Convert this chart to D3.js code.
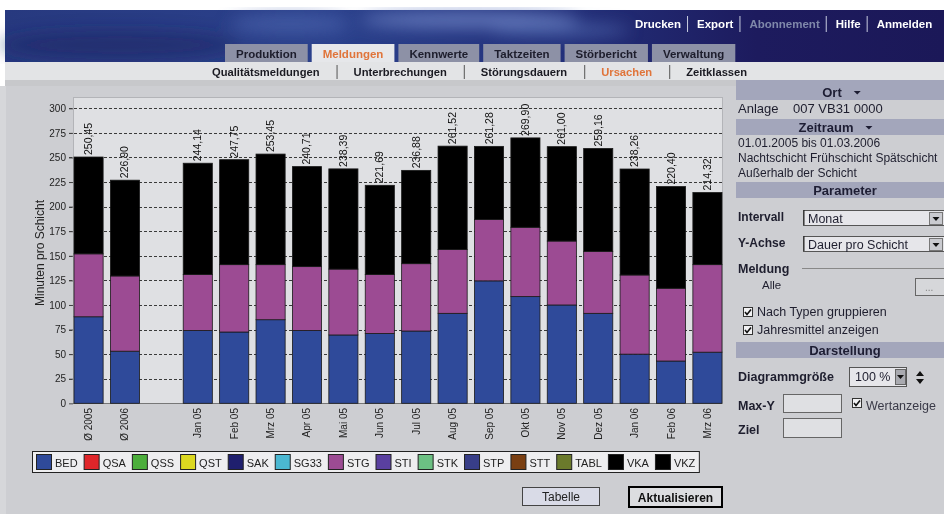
<!DOCTYPE html>
<html>
<head>
<meta charset="utf-8">
<script src="https://cdn.jsdelivr.net/npm/d3@7"></script>
<style>
  body { margin: 0; background: #cdced2; }
  svg { display: block; font-family: Arial, "Liberation Sans", sans-serif; }
</style>
</head>
<body>
<svg width="944" height="514"></svg>
<script>
// values (Minuten pro Schicht), "" = empty slot
const categories = ["Ø 2005", "Ø 2006", "", "Jan 05", "Feb 05", "Mrz 05", "Apr 05", "Mai 05", "Jun 05",
    "Jul 05", "Aug 05", "Sep 05", "Okt 05", "Nov 05", "Dez 05", "Jan 06", "Feb 06", "Mrz 06"];
const bedValues = [88, 53, null, 74, 72.5, 85, 74, 69.5, 71, 73.5, 91.5, 124.5, 108.5, 100, 91.5, 50, 43, 52];
const stgValues = [64, 76.5, null, 57, 68.5, 56, 65, 67, 60, 68.5, 65, 62.5, 70.5, 65, 63, 80.5, 74, 89];
const vkaValues = [98.45, 97.40, null, 113.14, 106.75, 112.45, 101.71, 101.89, 90.69, 94.88, 105.02, 74.28,
    90.90, 96.00, 104.66, 107.76, 103.40, 73.32];
const totals = [250.45, 226.90, null, 244.14, 247.75, 253.45, 240.71, 238.39, 221.69, 236.88, 261.52, 261.28,
    269.90, 261.00, 259.16, 238.26, 220.40, 214.32];
const yTicks = [0, 25, 50, 75, 100, 125, 150, 175, 200, 225, 250, 275, 300];

const legendKeys = ["BED", "QSA", "QSS", "QST", "SAK", "SG33", "STG", "STI", "STK", "STP", "STT", "TABL", "VKA", "VKZ"];
const legendColors = ["#2f4a9a", "#e0262a", "#4cae3c", "#dcd820", "#1f1f6e", "#4bb8d2", "#9c4b93", "#5a40a0",
    "#6cc083", "#383e88", "#7a3f12", "#6b7a2c", "#000000", "#000000"];

const mainTabs = ["Produktion", "Meldungen", "Kennwerte", "Taktzeiten", "Störbericht", "Verwaltung"];
const subTabs = ["Qualitätsmeldungen", "Unterbrechungen", "Störungsdauern", "Ursachen", "Zeitklassen"];
const topLinks = ["Drucken", "Export", "Abonnement", "Hilfe", "Anmelden"];

const svg = d3.select("svg");
const fmt = d3.formatLocale({ decimal: ",", thousands: ".", grouping: [3], currency: ["", ""] }).format(".2f");

drawHeader();
drawChart();
drawLegend();
drawPanel();

function drawHeader() {
    const defs = svg.append("defs");
    const grad = defs.append("linearGradient").attr("id", "banner");
    grad.append("stop").attr("offset", 0).attr("stop-color", "#27397f");
    grad.append("stop").attr("offset", 0.35).attr("stop-color", "#2b418c");
    grad.append("stop").attr("offset", 0.6).attr("stop-color", "#23307a");
    grad.append("stop").attr("offset", 0.8).attr("stop-color", "#1d1b5e");
    grad.append("stop").attr("offset", 1).attr("stop-color", "#1b1858");
    defs.append("filter").attr("id", "blur").append("feGaussianBlur").attr("stdDeviation", 8);

    svg.append("rect").attr("width", 944).attr("height", 514).attr("fill", "#cdced2");
    svg.append("rect").attr("width", 944).attr("height", 86).attr("fill", "#ffffff");
    svg.append("rect").attr("y", 86).attr("width", 6).attr("height", 428).attr("fill", "#d6d7da");

    const banner = svg.append("g");
    banner.append("rect").attr("x", 5).attr("y", 10).attr("width", 939).attr("height", 52).attr("fill", "url(#banner)");
    const glow = banner.append("g").attr("filter", "url(#blur)");
    glow.append("ellipse").attr("cx", 470).attr("cy", 20).attr("rx", 110).attr("ry", 8).attr("fill", "#6f86c6").attr("opacity", 0.8);
    glow.append("ellipse").attr("cx", 290).attr("cy", 24).attr("rx", 60).attr("ry", 10).attr("fill", "#4f68b0").attr("opacity", 0.6);
    glow.append("ellipse").attr("cx", 560).attr("cy", 30).attr("rx", 70).attr("ry", 6).attr("fill", "#5d78bc").attr("opacity", 0.6);
    glow.append("ellipse").attr("cx", 120).attr("cy", 45).attr("rx", 120).attr("ry", 14).attr("fill", "#1c2a66").attr("opacity", 0.6);

    // links top right
    let lx = 635;
    topLinks.forEach((t, i) => {
        const txt = banner.append("text").attr("x", lx).attr("y", 28)
            .attr("font-size", 11.5).attr("font-weight", "bold")
            .attr("fill", t === "Abonnement" ? "#7f88aa" : "#ffffff").text(t);
        lx += txt.node().getComputedTextLength() + 6;
        if (i < topLinks.length - 1) {
            banner.append("rect").attr("x", lx).attr("y", 16).attr("width", 1).attr("height", 16).attr("fill", "#c8cce0");
            lx += 10;
        }
    });

    // main tabs
    let tx = 225;
    mainTabs.forEach(t => {
        const active = t === "Meldungen";
        const g = svg.append("g");
        const rect = g.append("rect").attr("x", tx).attr("y", 44).attr("height", 18)
            .attr("fill", active ? "#e6e7ea" : "#8d91a6");
        const txt = g.append("text").attr("y", 58).attr("font-size", 11.5).attr("font-weight", "bold")
            .attr("text-anchor", "middle").attr("fill", active ? "#e0743a" : "#1d1d2c").text(t);
        const w = txt.node().getComputedTextLength() + 22;
        rect.attr("width", w);
        txt.attr("x", tx + w / 2);
        tx += w + 4;
    });

    // sub navigation
    svg.append("rect").attr("x", 5).attr("y", 62).attr("width", 939).attr("height", 18).attr("fill", "#e3e4e6");
    svg.append("rect").attr("x", 5).attr("y", 80).attr("width", 939).attr("height", 6).attr("fill", "#c7c8cb");
    let sx = 212;
    subTabs.forEach((t, i) => {
        const txt = svg.append("text").attr("x", sx).attr("y", 76).attr("font-size", 11.2).attr("font-weight", "bold")
            .attr("fill", t === "Ursachen" ? "#e0743a" : "#1a1a22").text(t);
        sx += txt.node().getComputedTextLength() + 17;
        if (i < subTabs.length - 1) {
            svg.append("rect").attr("x", sx).attr("y", 65).attr("width", 1).attr("height", 14).attr("fill", "#555");
            sx += 17;
        }
    });
}

function drawChart() {
    const x = d3.scaleBand().domain(categories).range([74, 722]).paddingInner(0.2).paddingOuter(0);
    const y = d3.scaleLinear().domain([0, 300]).range([403.3, 108.3]);

    svg.append("rect").attr("x", 73.5).attr("y", 97.5).attr("width", 649).attr("height", 306)
        .attr("fill", "#dfe0e3").attr("stroke", "#b3b4b8");

    // dashed grid lines + tick labels
    const grid = svg.append("g");
    grid.selectAll("line").data(yTicks.filter(v => v > 0)).join("line")
        .attr("x1", 69).attr("x2", 722).attr("y1", d => Math.round(y(d)) + 0.5).attr("y2", d => Math.round(y(d)) + 0.5)
        .attr("stroke", "#3a3a3a").attr("stroke-dasharray", "3,2");

    const yAxis = d3.axisLeft(y).tickValues(yTicks).tickSize(4).tickPadding(3);
    const ay = svg.append("g").attr("transform", "translate(73,0)").call(yAxis);
    ay.select(".domain").remove();
    ay.selectAll("line").attr("stroke", "#444");
    ay.selectAll("text").attr("font-size", 10).attr("fill", "#222").attr("font-family", "Arial, 'Liberation Sans', sans-serif");

    svg.append("line").attr("x1", 69).attr("x2", 722).attr("y1", 403.5).attr("y2", 403.5).attr("stroke", "#777");

    svg.append("text").attr("transform", "translate(44,253) rotate(-90)")
        .attr("text-anchor", "middle").attr("font-size", 12).attr("fill", "#222").text("Minuten pro Schicht");

    const rows = categories.map((c, i) => ({ cat: c, BED: bedValues[i], STG: stgValues[i], VKA: vkaValues[i], total: totals[i] }))
        .filter(d => d.cat !== "");
    const stack = d3.stack().keys(["BED", "STG", "VKA"]);
    const colors = { BED: "#2f4a9a", STG: "#9c4b93", VKA: "#000000" };

    svg.append("g").selectAll("g").data(stack(rows)).join("g")
        .attr("fill", d => colors[d.key])
        .selectAll("rect").data(d => d).join("rect")
        .attr("x", d => x(d.data.cat))
        .attr("width", x.bandwidth())
        .attr("y", d => y(d[1]))
        .attr("height", d => y(d[0]) - y(d[1]))
        .attr("stroke", "#1a1a1a").attr("stroke-width", 0.8);

    // value labels
    svg.append("g").selectAll("text").data(rows).join("text")
        .attr("transform", d => `translate(${x(d.cat) + x.bandwidth() / 2 + 3.5},${y(d.total) - 2}) rotate(-90)`)
        .attr("font-size", 10.5).attr("fill", "#111").text(d => fmt(d.total));

    // category labels
    svg.append("g").selectAll("text").data(rows).join("text")
        .attr("transform", d => `translate(${x(d.cat) + x.bandwidth() / 2 + 3.5},408) rotate(-90)`)
        .attr("text-anchor", "end").attr("font-size", 10).attr("fill", "#222").text(d => d.cat);
}

function drawLegend() {
    const g = svg.append("g");
    const box = g.append("rect").attr("x", 32.5).attr("y", 451.5).attr("height", 21)
        .attr("fill", "#eeeef0").attr("stroke", "#222");
    let lx = 36;
    legendKeys.forEach((k, i) => {
        g.append("rect").attr("x", lx + 0.5).attr("y", 454.5).attr("width", 15).attr("height", 15)
            .attr("fill", legendColors[i]).attr("stroke", "#222");
        const t = g.append("text").attr("x", lx + 19).attr("y", 466.5).attr("font-size", 11)
            .attr("fill", "#222").text(k);
        lx += 19 + t.node().getComputedTextLength() + 6;
    });
    box.attr("width", lx - 32.5 - 2);

    // buttons
    svg.append("rect").attr("x", 522.5).attr("y", 487.5).attr("width", 77).attr("height", 18)
        .attr("fill", "#d9dbe7").attr("stroke", "#444");
    svg.append("text").attr("x", 561).attr("y", 501).attr("text-anchor", "middle").attr("font-size", 12)
        .attr("fill", "#222").text("Tabelle");
    svg.append("rect").attr("x", 629).attr("y", 487).attr("width", 93).attr("height", 20)
        .attr("fill", "#dcdde0").attr("stroke", "#000").attr("stroke-width", 2);
    svg.append("text").attr("x", 675.5).attr("y", 501.5).attr("text-anchor", "middle").attr("font-size", 12)
        .attr("font-weight", "bold").attr("fill", "#111").text("Aktualisieren");
}

function header(y0, label, cx, arrow) {
    svg.append("rect").attr("x", 736).attr("y", y0).attr("width", 208).attr("height", 16).attr("fill", "#a3a6bb");
    const t = svg.append("text").attr("x", cx).attr("y", y0 + 12.5).attr("text-anchor", "middle")
        .attr("font-size", 13).attr("font-weight", "bold").attr("fill", "#1d1d33").text(label);
    if (arrow) {
        const ax = cx + t.node().getComputedTextLength() / 2 + 15;
        svg.append("path").attr("d", `M${ax - 3},${y0 + 7}h7l-3.5,3.5z`).attr("fill", "#1d1d33");
    }
}

function textAt(x, y, s, opts) {
    opts = opts || {};
    return svg.append("text").attr("x", x).attr("y", y).attr("font-size", opts.size || 12)
        .attr("font-weight", opts.bold ? "bold" : "normal").attr("fill", opts.fill || "#1e1e2e").text(s);
}

function checkbox(x, y) {
    svg.append("rect").attr("x", x + 0.5).attr("y", y + 0.5).attr("width", 9).attr("height", 9)
        .attr("fill", "#f2f2f4").attr("stroke", "#333");
    svg.append("path").attr("d", `M${x + 2},${y + 5}l2,2.5l4,-5`).attr("fill", "none").attr("stroke", "#111").attr("stroke-width", 1.6);
}

function select(x, y, w, h, label) {
    svg.append("rect").attr("x", x + 0.5).attr("y", y + 0.5).attr("width", w).attr("height", h)
        .attr("fill", "#e6e6ea").attr("stroke", "#555");
    svg.append("line").attr("x1", x + 1).attr("x2", x + 1).attr("y1", y).attr("y2", y + h).attr("stroke", "#222");
    textAt(x + 5, y + h - 2.5, label, { size: 12.5 });
}

function drawPanel() {
    svg.append("rect").attr("x", 736).attr("y", 80).attr("width", 208).attr("height", 6).attr("fill", "#a3a6bb");
    header(84, "Ort", 832, true);
    textAt(738, 113, "Anlage", { size: 13 });
    textAt(793, 113, "007 VB31 0000", { size: 13 });
    header(119, "Zeitraum", 826, true);
    textAt(738, 147, "01.01.2005 bis 01.03.2006");
    textAt(738, 162, "Nachtschicht Frühschicht Spätschicht");
    textAt(738, 177, "Außerhalb der Schicht");
    header(182, "Parameter", 845, false);

    textAt(738, 221, "Intervall", { bold: true });
    select(803, 210, 141, 15, "Monat");
    textAt(738, 247, "Y-Achse", { bold: true });
    select(803, 236, 141, 15, "Dauer pro Schicht");
    [212, 238].forEach(yy => {
        svg.append("rect").attr("x", 929.5).attr("y", yy + 0.5).attr("width", 13).attr("height", 12)
            .attr("fill", "#cacbd0").attr("stroke", "#777");
        svg.append("path").attr("d", `M${932.5},${yy + 5}h7l-3.5,4z`).attr("fill", "#111");
    });

    textAt(738, 273, "Meldung", { bold: true, size: 12.5 });
    svg.append("line").attr("x1", 802).attr("x2", 944).attr("y1", 268.5).attr("y2", 268.5).attr("stroke", "#888");
    textAt(762, 289, "Alle", { size: 11.5 });
    svg.append("rect").attr("x", 915.5).attr("y", 278.5).attr("width", 30).attr("height", 17)
        .attr("fill", "#d6d7da").attr("stroke", "#666");
    textAt(925, 291, "...", { size: 10, fill: "#888" });

    checkbox(743, 307);
    textAt(757, 316, "Nach Typen gruppieren", { size: 12.5 });
    checkbox(743, 325);
    textAt(757, 334, "Jahresmittel anzeigen", { size: 12.5 });

    header(342, "Darstellung", 845, false);
    textAt(738, 381, "Diagrammgröße", { bold: true, size: 12.5 });
    svg.append("rect").attr("x", 849.5).attr("y", 367.5).attr("width", 57).attr("height", 19)
        .attr("fill", "#e6e6ea").attr("stroke", "#555");
    textAt(855, 381, "100 %", { size: 12.5 });
    svg.append("rect").attr("x", 895.5).attr("y", 369.5).attr("width", 10).attr("height", 15)
        .attr("fill", "#a9aab0").attr("stroke", "#666");
    svg.append("path").attr("d", "M897,375h7l-3.5,4z").attr("fill", "#111");
    svg.append("path").attr("d", "M916,376l4,-5l4,5zM916,379l4,5l4,-5z").attr("fill", "#111");

    textAt(738, 410, "Max-Y", { bold: true, size: 12.5 });
    svg.append("rect").attr("x", 783.5).attr("y", 394.5).attr("width", 58).attr("height", 18)
        .attr("fill", "#dfe0e3").attr("stroke", "#666");
    checkbox(852, 398);
    textAt(866, 410, "Wertanzeige", { size: 12.5, fill: "#3a3a48" });
    textAt(738, 434, "Ziel", { bold: true, size: 12.5 });
    svg.append("rect").attr("x", 783.5).attr("y", 418.5).attr("width", 58).attr("height", 19)
        .attr("fill", "#dfe0e3").attr("stroke", "#666");
}
</script>
</body>
</html>
